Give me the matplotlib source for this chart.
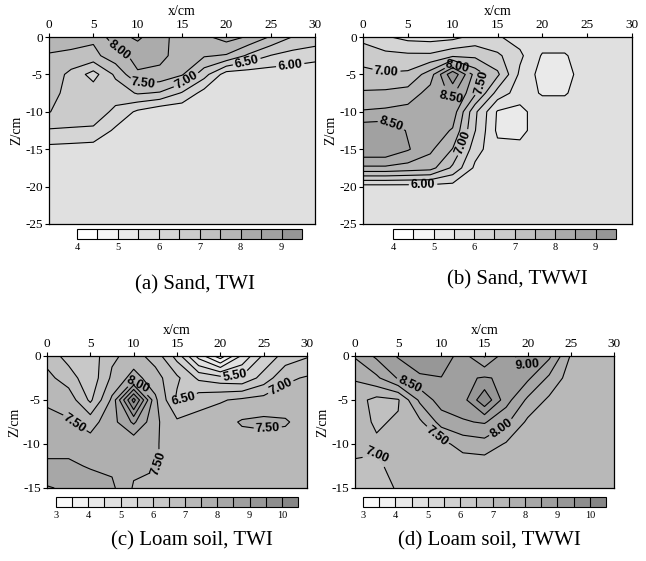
import numpy as np
import matplotlib
matplotlib.use("Agg")
import matplotlib.pyplot as plt

plt.rcParams['font.family'] = ['Liberation Serif', 'DejaVu Serif']
plt.rcParams['axes.unicode_minus'] = False

# ---------------- data ----------------
x_cm = [0, 2.5, 5, 7.5, 10, 12.5, 15, 17.5, 20, 22.5, 25, 27.5, 30]
z_sand = [0, -2.5, -5, -7.5, -10, -12.5, -15, -17.5, -20, -22.5, -25]
z_loam = [0, -2.5, -5, -7.5, -10, -12.5, -15]

sand_twi = [
    [7.80, 7.70, 7.60, 8.30, 8.60, 8.15, 7.80, 7.90, 8.20, 7.95, 7.45, 6.98, 6.85],
    [7.45, 7.40, 7.35, 7.80, 8.15, 8.15, 7.75, 7.55, 7.45, 6.90, 6.48, 6.30, 6.15],
    [7.35, 6.85, 6.30, 7.10, 7.95, 7.85, 7.55, 6.70, 5.75, 5.70, 5.70, 5.70, 5.70],
    [7.20, 6.80, 6.80, 6.70, 7.05, 6.95, 6.45, 5.80, 5.70, 5.70, 5.70, 5.70, 5.70],
    [7.02, 6.75, 6.75, 6.40, 5.90, 5.60, 5.60, 5.70, 5.70, 5.70, 5.70, 5.70, 5.70],
    [6.45, 6.45, 6.42, 5.90, 5.70, 5.70, 5.70, 5.70, 5.70, 5.70, 5.70, 5.70, 5.70],
    [5.85, 5.80, 5.75, 5.70, 5.70, 5.70, 5.70, 5.70, 5.70, 5.70, 5.70, 5.70, 5.70],
    [5.70, 5.70, 5.70, 5.70, 5.70, 5.70, 5.70, 5.70, 5.70, 5.70, 5.70, 5.70, 5.70],
    [5.70, 5.70, 5.70, 5.70, 5.70, 5.70, 5.70, 5.70, 5.70, 5.70, 5.70, 5.70, 5.70],
    [5.70, 5.70, 5.70, 5.70, 5.70, 5.70, 5.70, 5.70, 5.70, 5.70, 5.70, 5.70, 5.70],
    [5.70, 5.70, 5.70, 5.70, 5.70, 5.70, 5.70, 5.70, 5.70, 5.70, 5.70, 5.70, 5.70],
]

sand_twwi = [
    [6.40, 6.05, 5.85, 5.80, 5.85, 6.15, 6.05, 5.80, 5.80, 5.80, 5.80, 5.80, 5.80],
    [6.70, 6.65, 6.60, 6.60, 6.90, 6.90, 6.60, 6.10, 5.45, 5.45, 5.80, 5.80, 5.80],
    [7.20, 7.05, 7.10, 7.75, 9.40, 7.80, 7.10, 5.90, 5.30, 5.30, 5.80, 5.80, 5.80],
    [7.55, 7.60, 7.70, 8.20, 8.60, 7.60, 6.30, 5.75, 5.45, 5.45, 5.80, 5.80, 5.80],
    [8.05, 8.10, 8.20, 8.35, 8.30, 6.60, 5.45, 5.35, 5.80, 5.80, 5.80, 5.80, 5.80],
    [8.85, 8.90, 8.45, 8.30, 7.95, 6.52, 5.40, 5.35, 5.80, 5.80, 5.80, 5.80, 5.80],
    [8.95, 8.95, 8.55, 8.10, 7.48, 6.20, 5.65, 5.65, 5.80, 5.80, 5.80, 5.80, 5.80],
    [7.90, 7.90, 7.80, 7.70, 6.90, 5.90, 5.80, 5.80, 5.80, 5.80, 5.80, 5.80, 5.80],
    [5.80, 5.80, 5.80, 5.80, 5.80, 5.80, 5.80, 5.80, 5.80, 5.80, 5.80, 5.80, 5.80],
    [5.80, 5.80, 5.80, 5.80, 5.80, 5.80, 5.80, 5.80, 5.80, 5.80, 5.80, 5.80, 5.80],
    [5.80, 5.80, 5.80, 5.80, 5.80, 5.80, 5.80, 5.80, 5.80, 5.80, 5.80, 5.80, 5.80],
]

loam_twi = [
    [6.80, 6.30, 6.20, 6.90, 7.20, 6.80, 5.80, 4.30, 3.20, 4.60, 5.60, 6.20, 6.45],
    [7.15, 6.75, 6.15, 7.10, 7.70, 7.20, 6.60, 5.90, 5.70, 5.60, 6.20, 6.90, 7.05],
    [7.40, 7.30, 6.40, 7.60, 10.20, 7.60, 6.40, 6.80, 6.95, 7.10, 7.20, 7.25, 7.20],
    [7.70, 7.55, 7.30, 7.80, 8.60, 7.60, 7.10, 7.20, 7.30, 7.55, 7.60, 7.55, 7.30],
    [7.90, 7.80, 7.70, 7.75, 7.60, 7.55, 7.25, 7.20, 7.20, 7.30, 7.30, 7.30, 7.25],
    [8.05, 8.10, 7.95, 7.90, 7.60, 7.55, 7.25, 7.25, 7.25, 7.25, 7.25, 7.25, 7.25],
    [8.55, 8.40, 8.30, 8.10, 7.45, 7.30, 7.25, 7.25, 7.25, 7.25, 7.25, 7.25, 7.25],
]

loam_twwi = [
    [8.05, 8.60, 9.05, 9.40, 9.40, 8.70, 7.95, 8.80, 9.30, 8.60, 7.45, 7.20, 7.20],
    [7.55, 7.90, 8.55, 8.90, 8.98, 8.90, 9.05, 8.90, 8.60, 7.90, 7.25, 7.20, 7.20],
    [7.20, 6.85, 6.95, 8.10, 8.75, 8.80, 9.90, 8.70, 7.90, 7.40, 7.20, 7.20, 7.20],
    [7.15, 6.95, 7.05, 7.40, 8.20, 8.45, 8.55, 8.10, 7.40, 7.20, 7.20, 7.20, 7.20],
    [7.10, 7.05, 7.15, 7.20, 7.35, 7.70, 7.80, 7.45, 7.20, 7.20, 7.20, 7.20, 7.20],
    [6.95, 6.95, 7.10, 7.20, 7.20, 7.20, 7.20, 7.20, 7.20, 7.20, 7.20, 7.20, 7.20],
    [6.75, 6.80, 7.05, 7.20, 7.20, 7.20, 7.20, 7.20, 7.20, 7.20, 7.20, 7.20, 7.20],
]

levels_sand = [4.0, 4.5, 5.0, 5.5, 6.0, 6.5, 7.0, 7.5, 8.0, 8.5, 9.0, 9.5]
levels_loam = [3.0, 3.5, 4.0, 4.5, 5.0, 5.5, 6.0, 6.5, 7.0, 7.5, 8.0, 8.5,
               9.0, 9.5, 10.0, 10.5]
ticks_sand = [4, 5, 6, 7, 8, 9]
ticks_loam = [3, 4, 5, 6, 7, 8, 9, 10]
xticks = [0, 5, 10, 15, 20, 25, 30]
zticks_sand = [0, -5, -10, -15, -20, -25]
zticks_loam = [0, -5, -10, -15]

captions = ["(a) Sand, TWI", "(b) Sand, TWWI",
            "(c) Loam soil, TWI", "(d) Loam soil, TWWI"]

labels_a = [(8.0, (7.8, -2.0)), (7.5, (10.6, -6.4)), (7.0, (15.7, -6.2)),
            (6.5, (22.3, -3.3)), (6.0, (27.2, -3.7))]
labels_b = [(7.0, (2.6, -4.6)), (8.0, (10.6, -3.7)), (8.5, (9.5, -8.5)),
            (7.5, (14.2, -6.6)), (8.5, (3.0, -12.0)), (7.0, (11.4, -14.2)),
            (6.0, (6.7, -19.8))]
labels_c = [(8.0, (10.0, -3.7)), (7.5, (3.4, -7.3)), (6.5, (16.1, -5.6)),
            (5.5, (21.7, -2.4)), (7.0, (26.8, -3.2)), (7.5, (25.5, -8.5)),
            (7.5, (13.4, -12.2))]
labels_d = [(8.5, (6.4, -3.1)), (7.5, (9.85, -8.75)), (8.0, (16.4, -7.3)),
            (9.0, (19.5, -2.35)), (7.0, (3.3, -10.3))]


def grays(n, light, dark):
    out = []
    for k in range(n):
        v = (light + (dark - light) * k / (n - 1)) / 255.0
        out.append((v, v, v))
    return out


W, H = 646, 561
fig = plt.figure(figsize=(W / 100, H / 100), dpi=100)


def fr(l, t, r, b):
    return [l / W, 1 - b / H, (r - l) / W, (b - t) / H]


panels = [
    dict(data=sand_twi, z=z_sand, lev=levels_sand, ticks=ticks_sand,
         zt=zticks_sand, ax=fr(49, 37, 315, 224), cb=fr(77, 229, 302, 239),
         labels=labels_a, cols=grays(11, 255, 150), cap=(195, 285)),
    dict(data=sand_twwi, z=z_sand, lev=levels_sand, ticks=ticks_sand,
         zt=zticks_sand, ax=fr(363, 37, 632, 224), cb=fr(393, 229, 616, 239),
         labels=labels_b, cols=grays(11, 255, 150), cap=(517, 280)),
    dict(data=loam_twi, z=z_loam, lev=levels_loam, ticks=ticks_loam,
         zt=zticks_loam, ax=fr(47, 356, 307, 488), cb=fr(56, 497, 298, 507),
         labels=labels_c, cols=grays(15, 250, 134), cap=(192, 541)),
    dict(data=loam_twwi, z=z_loam, lev=levels_loam, ticks=ticks_loam,
         zt=zticks_loam, ax=fr(355, 356, 614, 488), cb=fr(363, 497, 606, 507),
         labels=labels_d, cols=grays(15, 250, 134), cap=(489, 541)),
]

errors = []
for i, p in enumerate(panels):
    ax = fig.add_axes(p['ax'])
    X, Z = np.meshgrid(x_cm, p['z'])
    vals = np.array(p['data'])
    cf = ax.contourf(X, Z, vals, levels=p['lev'], colors=p['cols'])
    line_sets = {}
    for lv in p['lev']:
        if vals.min() < lv < vals.max():
            line_sets[lv] = ax.contour(X, Z, vals, levels=[lv], colors='k',
                                       linewidths=0.8)
    bylev = {}
    for lv, pos in p['labels']:
        bylev.setdefault(lv, []).append(pos)
    with plt.rc_context({'font.family': 'Liberation Sans',
                         'font.weight': 'bold'}):
        for lv, poss in bylev.items():
            try:
                txts = ax.clabel(line_sets[lv], manual=poss, inline=True,
                                 fmt='%.2f', fontsize=9, inline_spacing=2)
                for t in txts:
                    t.set_fontfamily('Liberation Sans')
                    t.set_fontweight('bold')
            except Exception as e:
                errors.append(repr(e))
    ax.set_xlim(0, 30)
    ax.set_ylim(p['z'][-1], 0)
    ax.xaxis.tick_top()
    ax.xaxis.set_label_position('top')
    ax.set_xticks(xticks)
    ax.set_yticks(p['zt'])
    ax.set_xlabel('x/cm', fontsize=10, labelpad=3)
    ax.set_ylabel('Z/cm', fontsize=10, labelpad=1)
    ax.tick_params(direction='out', length=3, width=0.8, labelsize=9.5, pad=1.5)
    for s in ax.spines.values():
        s.set_linewidth(0.9)

    cax = fig.add_axes(p['cb'])
    cb = fig.colorbar(cf, cax=cax, orientation='horizontal',
                      ticks=p['ticks'], drawedges=True)
    cb.outline.set_linewidth(0.8)
    cb.dividers.set_linewidth(0.8)
    cb.ax.tick_params(length=0, labelsize=7.5, pad=3)

    fig.text(p['cap'][0] / W, 1 - p['cap'][1] / H, captions[i],
             ha='center', va='center', fontsize=15)

fig.savefig('out.png', dpi=100)
if errors:
    raise RuntimeError("; ".join(errors))
